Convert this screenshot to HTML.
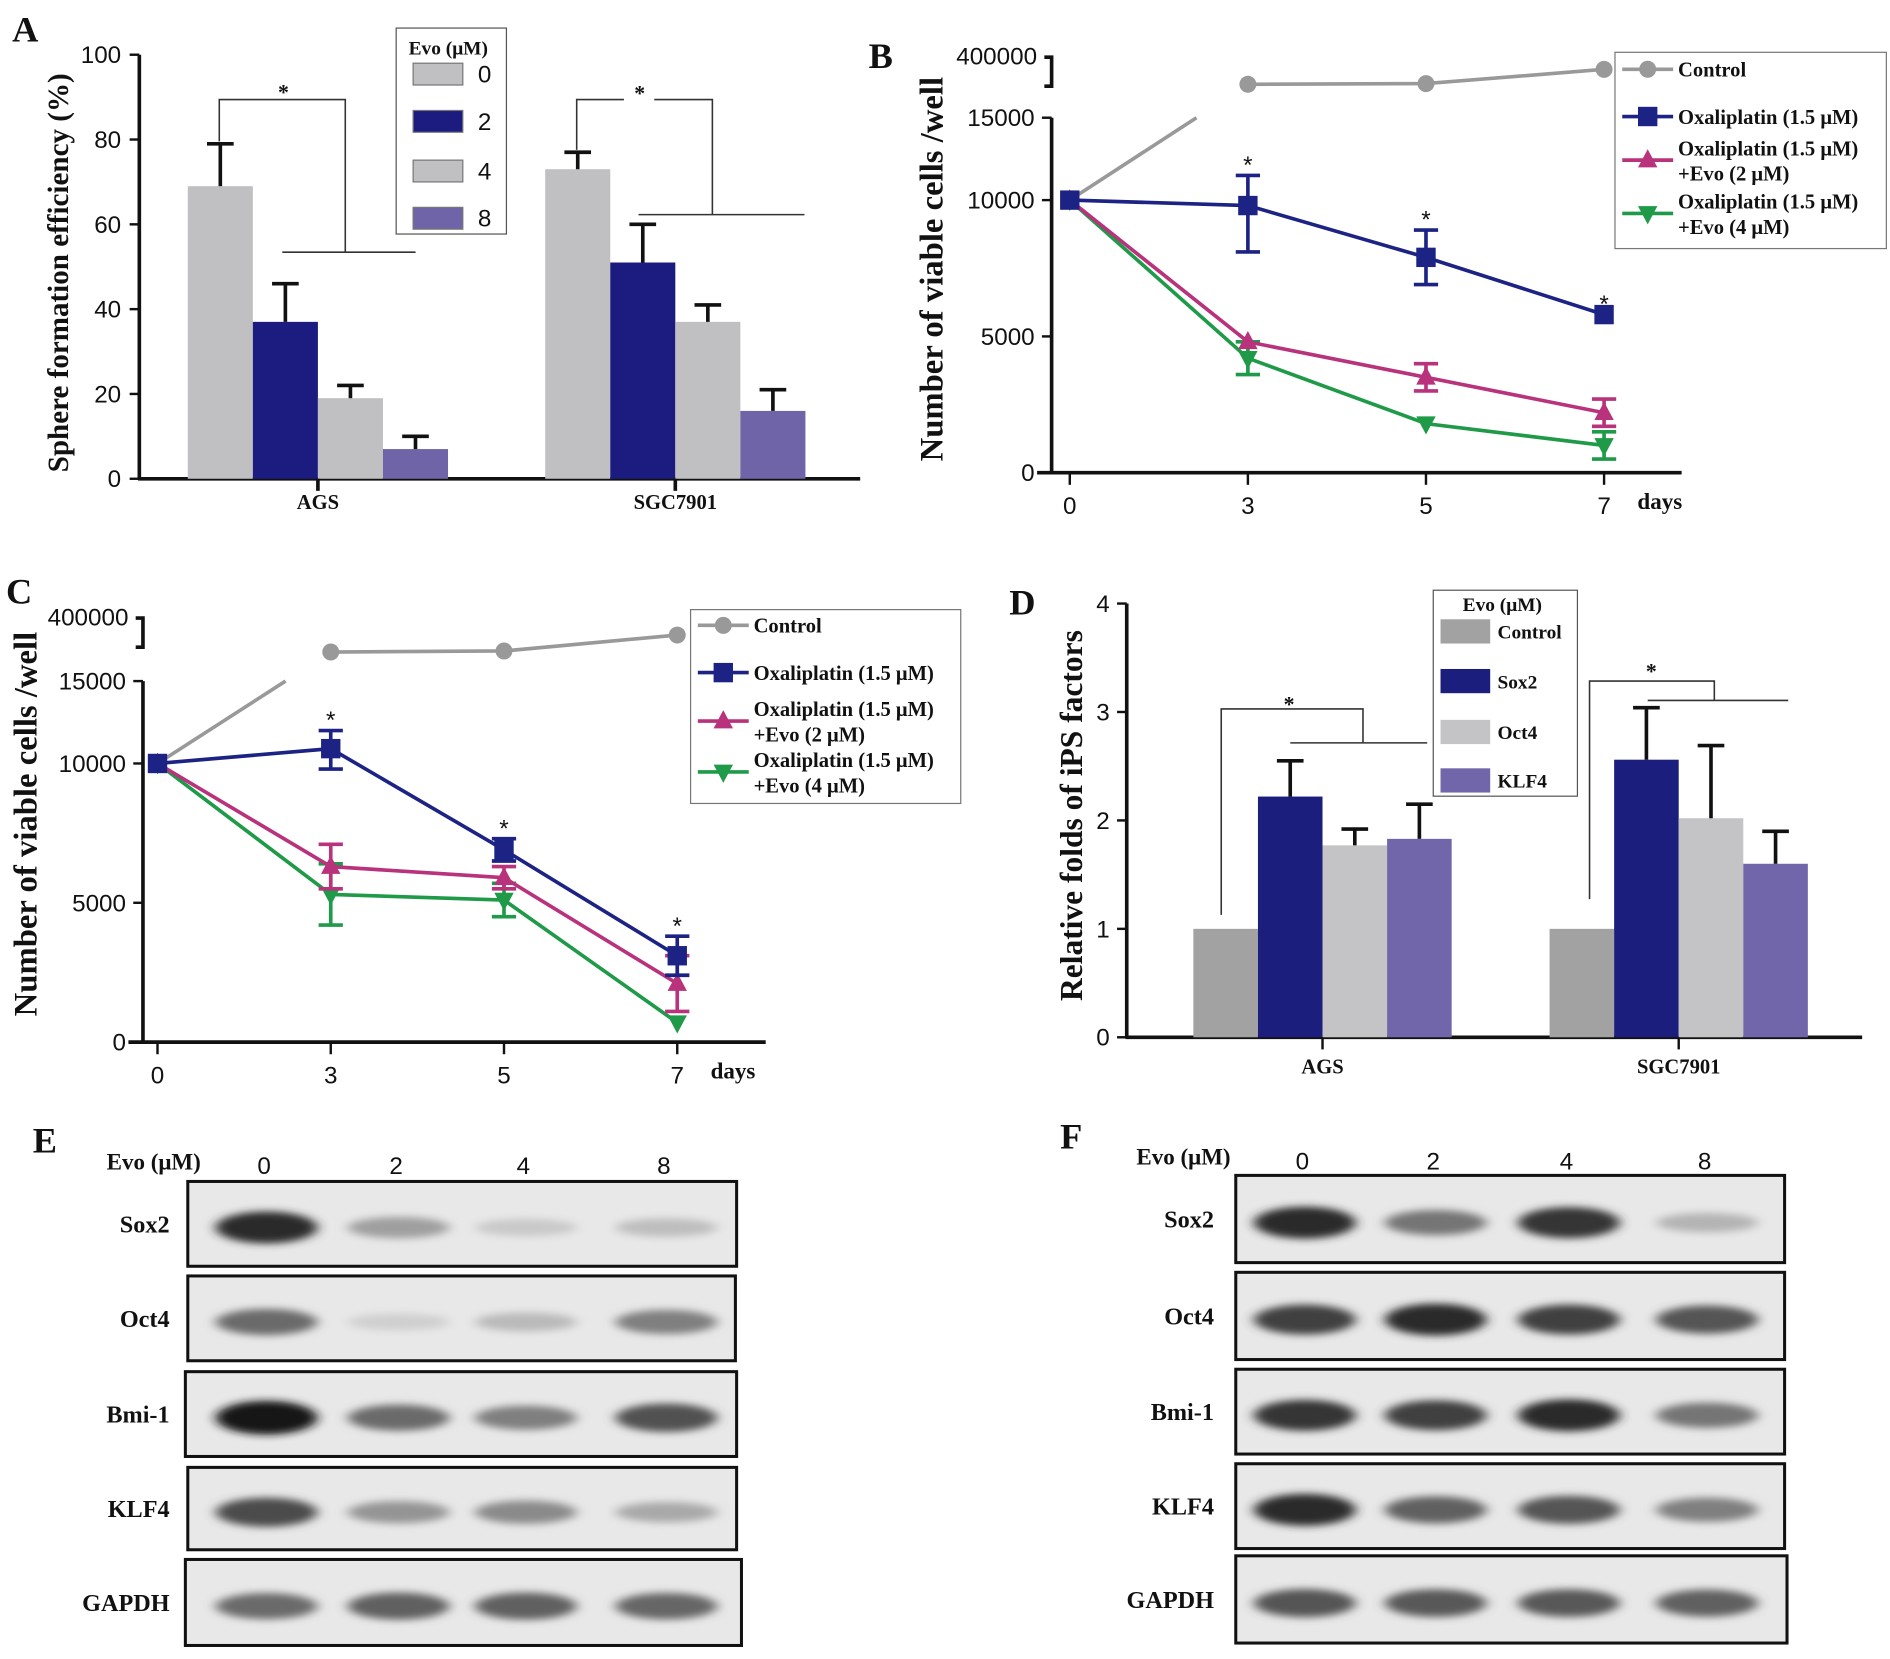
<!DOCTYPE html>
<html><head><meta charset="utf-8">
<style>
html,body{margin:0;padding:0;background:#fff;}
svg{display:block;}
text{font-family:"Liberation Serif",serif;font-weight:bold;fill:#111;}
.tk{font-family:"Liberation Sans",sans-serif;font-weight:normal;font-size:20px;}
</style></head>
<body>
<svg id="fig" width="1890" height="1659" viewBox="0 0 1560 1369" xmlns="http://www.w3.org/2000/svg">
<defs>
<filter id="blur" x="-30%" y="-100%" width="160%" height="300%"><feGaussianBlur stdDeviation="5 3"/></filter>
</defs>
</svg>
<script>
// ---------- Panel A data ----------
const aGroups = ["AGS","SGC7901"];
const aDoses = ["0","2","4","8"];
const aVals = [[69,37,19,7],[73,51,37,16]];
const aErr = [[79,46,22,10],[77,60,41,21]];
const aTicks = [0,20,40,60,80,100];
// ---------- Panel B data ----------
const bDays = ["0","3","5","7"];
const bOxa = [10000,9800,7900,5800];
const bOxaErr = [0,1700,1000,0];
const bEvo2 = [10000,4800,3500,2200];
const bEvo2Err = [0,0,500,500];
const bEvo4 = [10000,4200,1800,1000];
const bEvo4Err = [0,600,0,500];
const bCtrl = [10000,320000,322000,364000];
const bTicks = [0,5000,10000,15000];
// ---------- Panel C data ----------
const cDays = ["0","3","5","7"];
const cOxa = [10000,10900,6900,3100];
const cOxaErr = [0,1100,400,700];
const cEvo2 = [10000,6300,5900,2100];
const cEvo2Err = [0,800,400,1000];
const cEvo4 = [10000,5300,5100,700];
const cEvo4Err = [0,1100,600,0];
const cCtrl = [10000,300000,303000,350000];
const cTicks = [0,5000,10000,15000];
// ---------- Panel D data ----------
const dGroups = ["AGS","SGC7901"];
const dFactors = ["Control","Sox2","Oct4","KLF4"];
const dVals = [[1.0,2.22,1.77,1.83],[1.0,2.56,2.02,1.6]];
const dErr = [[1.0,2.55,1.92,2.15],[1.0,3.04,2.69,1.9]];
const dTicks = [0,1,2,3,4];
// ---------- Blots (band darkness 0..1) ----------
const blotProteins = ["Sox2","Oct4","Bmi-1","KLF4","GAPDH"];
const blotDoses = ["0","2","4","8"];
const blotE = [[0.9,0.35,0.15,0.2],[0.6,0.12,0.22,0.5],[1.0,0.6,0.5,0.72],[0.75,0.4,0.45,0.3],[0.6,0.65,0.65,0.62]];
const blotF = [[0.9,0.55,0.85,0.25],[0.8,0.9,0.8,0.7],[0.85,0.8,0.9,0.55],[0.9,0.65,0.7,0.5],[0.7,0.68,0.68,0.65]];

const NS="http://www.w3.org/2000/svg";
const svg=document.getElementById('fig');
function mk(tag,attrs,parent){const e=document.createElementNS(NS,tag);for(const k in attrs)e.setAttribute(k,attrs[k]);(parent||svg).appendChild(e);return e;}
function txt(s,x,y,size,parent,anchor,cls){const t=mk('text',{x:x,y:y,'font-size':size,'text-anchor':anchor||'start'},parent);if(cls)t.setAttribute('class',cls);t.textContent=s;return t;}
function line(x1,y1,x2,y2,col,w,parent){return mk('line',{x1:x1,y1:y1,x2:x2,y2:y2,stroke:col,'stroke-width':w},parent);}
function errbar(x,y1,y2,col,w,cap,parent){const g=mk('g',{},parent);line(x,y1,x,y2,col,w,g);line(x-cap,y2,x+cap,y2,col,w,g);return g;}

[['A',10,34],['B',717,56],['C',5,498],['D',833,507],['E',27,951],['F',875,948]].forEach(p=>{
 const t=txt(p[0],p[1],p[2],30);
 
 
});

// ================= Panel A =================
(function(){
 const g=mk('g',{});
 
 
 const y=v=>395-v*3.5;
 const cols=['#c0c0c2','#1c1c80','#c0c0c2','#7064a8'];
 const gx=[155,450], bw=53.7;
 line(115,45,115,396,'#111',3,g);
 line(114,395,710,395,'#111',3,g);
 aTicks.forEach(t=>{line(107,y(t),115,y(t),'#111',2,g);const l=txt(String(t),100,y(t)+7,20,g,'end','tk');
  
  });
 aGroups.forEach((grp,gi)=>{
  aVals[gi].forEach((v,i)=>{
   const x=gx[gi]+i*bw;
   const r=mk('rect',{x:x,y:y(v),width:bw,height:y(0)-y(v),fill:cols[i]},g);
   
   
   const e=errbar(x+bw/2,y(v),y(aErr[gi][i]),'#111',3,11,g);
   
   
  });
  const cx=gx[gi]+2*bw;
  line(cx,395,cx,405,'#111',3,g);
  const l=txt(grp,cx,420,17,g,'middle');
  
  
 });
 const s=mk('g',{fill:'none',stroke:'#333','stroke-width':1.3},g);
 
 
 mk('polyline',{points:`181,${y(aErr[0][0])-2} 181,82 285,82 285,208`},s);
 line(233,208,343,208,'#333',1.3,s);
 mk('polyline',{points:`476,${y(aErr[1][0])-2} 476,82 515,82`},s);
 mk('polyline',{points:`540,82 588,82 588,177`},s);
 line(527,177,664,177,'#333',1.3,s);
 txt('*',234,82,18,g,'middle');txt('*',528,83,18,g,'middle');
 const yt=txt('Sphere formation efficiency (%)',0,0,24,g,'middle');
 yt.setAttribute('transform','translate(56,225) rotate(-90)');
 
 
 const lg=mk('g',{},g);
 
 
 mk('rect',{x:327,y:23,width:91,height:170,fill:'#fff',stroke:'#555','stroke-width':1},lg);
 txt('Evo (μM)',370,45,16,lg,'middle');
 const ly=[52,91,132,171];
 aDoses.forEach((d,i)=>{
  const e=mk('g',{},lg);
  
  
  mk('rect',{x:341,y:ly[i],width:41,height:18,fill:cols[i],stroke:'#777','stroke-width':1},e);
  txt(d,400,ly[i]+16,20,e,'middle','tk');
 });
})();

function lineChart(o){
 const g=mk('g',{});
 
 
 const x=i=>o.x0+i*o.dx;
 const y=v=>v<=10000?o.yZero-v*(o.yZero-o.y10k)/10000:(v<=15000?o.y10k-(v-10000)*(o.y10k-o.y15k)/5000:o.yTop+(400000-v)*0.00028);
 line(o.ax,o.y15k,o.ax,o.yZero+1,'#111',3,g);
 line(o.ax-12,o.yZero,o.axEnd,o.yZero,'#111',3,g);
 mk('polyline',{points:`${o.ax-6},${o.yTop} ${o.ax},${o.yTop} ${o.ax},${o.yTop+24} ${o.ax-6},${o.yTop+24}`,fill:'none',stroke:'#111','stroke-width':3},g);
 const t4=txt('400000',o.ax-12,o.yTop+6,19,g,'end','tk');
 
 
 o.ticks.forEach(t=>{line(o.ax-8,y(t),o.ax,y(t),'#111',2,g);const l=txt(String(t),o.ax-14,y(t)+7,19,g,'end','tk');
  
  });
 o.days.forEach((d,i)=>{line(x(i),o.yZero,x(i),o.yZero+10,'#111',2,g);const l=txt(d,x(i),o.yZero+34,21,g,'middle','tk');
  
  });
 txt('days',x(3)+46,o.yZero+30,19,g,'middle');
 const yt=txt('Number of viable cells /well',0,0,27,g,'middle');
 yt.setAttribute('transform',`translate(${o.titleX},${o.titleY}) rotate(-90)`);
 
 
 const cg=mk('g',{},g);
 
 
 const p0=[x(0),y(o.ctrl[0])], p1=[x(1),y(o.ctrl[1])];
 const t=(p0[1]-o.y15k)/(p0[1]-p1[1]);
 line(p0[0],p0[1],p0[0]+(p1[0]-p0[0])*t,o.y15k,'#999',3,cg);
 const pts=[1,2,3].map(i=>x(i)+','+y(o.ctrl[i])).join(' ');
 mk('polyline',{points:pts,fill:'none',stroke:'#999','stroke-width':3},cg);
 [1,2,3].forEach(i=>{const c=mk('circle',{cx:x(i),cy:y(o.ctrl[i]),r:7,fill:'#999'},cg);
  
  });
 const series=[
  {n:'series-oxaliplatin-evo4',v:o.evo4,e:o.evo4Err,c:'#1f9a48',m:'vtri'},
  {n:'series-oxaliplatin-evo2',v:o.evo2,e:o.evo2Err,c:'#b8327c',m:'tri'},
  {n:'series-oxaliplatin',v:o.oxa,e:o.oxaErr,c:'#1c2384',m:'sq'}];
 series.forEach(s=>{
  const sg=mk('g',{},g);
  
  
  mk('polyline',{points:s.v.map((v,i)=>x(i)+','+y(v)).join(' '),fill:'none',stroke:s.c,'stroke-width':3},sg);
  s.v.forEach((v,i)=>{
   if(s.e[i]>0){const eg=mk('g',{},sg);
    
    
    line(x(i),y(v+s.e[i]),x(i),y(v-s.e[i]),s.c,3,eg);
    line(x(i)-10,y(v+s.e[i]),x(i)+10,y(v+s.e[i]),s.c,3,eg);
    line(x(i)-10,y(v-s.e[i]),x(i)+10,y(v-s.e[i]),s.c,3,eg);}
   const px=x(i),py=y(v);let m;
   if(s.m==='sq')m=mk('rect',{x:px-8,y:py-8,width:16,height:16,fill:s.c},sg);
   else if(s.m==='tri')m=mk('polygon',{points:`${px},${py-9} ${px-8},${py+6} ${px+8},${py+6}`,fill:s.c},sg);
   else m=mk('polygon',{points:`${px},${py+9} ${px-8},${py-6} ${px+8},${py-6}`,fill:s.c},sg);
   
   
  });
 });
 o.stars.forEach(i=>{const v=o.oxa[i]+o.oxaErr[i];txt('*',x(i),y(v)-2,26,g,'middle','tk');});
 const L=o.leg, lg=mk('g',{},g);
 
 
 mk('rect',{x:L.x,y:L.y,width:L.w,height:L.h,fill:'#fff',stroke:'#777','stroke-width':1},lg);
 const ents=[['Control','#999','circ',L.r[0],['Control']],['Oxaliplatin (1.5 μM)','#1c2384','sq',L.r[1],['Oxaliplatin (1.5 μM)']],
  ['evo2','#b8327c','tri',L.r[2],['Oxaliplatin (1.5 μM)','+Evo (2 μM)']],['evo4','#1f9a48','vtri',L.r[3],['Oxaliplatin (1.5 μM)','+Evo (4 μM)']]];
 ents.forEach(en=>{
  const eg=mk('g',{},lg);
  
  
  const cy=en[3],lx=L.x+6;
  line(lx,cy,lx+42,cy,en[1],3,eg);
  const mx=lx+21;
  if(en[2]==='circ')mk('circle',{cx:mx,cy:cy,r:7,fill:en[1]},eg);
  else if(en[2]==='sq')mk('rect',{x:mx-8,y:cy-8,width:16,height:16,fill:en[1]},eg);
  else if(en[2]==='tri')mk('polygon',{points:`${mx},${cy-9} ${mx-8},${cy+6} ${mx+8},${cy+6}`,fill:en[1]},eg);
  else mk('polygon',{points:`${mx},${cy+9} ${mx-8},${cy-6} ${mx+8},${cy-6}`,fill:en[1]},eg);
  const lines=en[4];
  lines.forEach((s,k)=>txt(s,lx+46,(lines.length===1?cy+6:cy-4+k*21),17,eg));
 });
}
lineChart({name:'panel-b-line-chart',days:bDays,oxa:bOxa,oxaErr:bOxaErr,evo2:bEvo2,evo2Err:bEvo2Err,evo4:bEvo4,evo4Err:bEvo4Err,ctrl:bCtrl,ticks:bTicks,
 x0:883,dx:147,ax:868,axEnd:1388,yZero:390,y10k:165,y15k:97,yTop:47,titleX:778,titleY:222,stars:[1,2,3],
 leg:{x:1333,y:43,w:224,h:162,r:[57,96,132,176]}});
lineChart({name:'panel-c-line-chart',days:cDays,oxa:cOxa,oxaErr:cOxaErr,evo2:cEvo2,evo2Err:cEvo2Err,evo4:cEvo4,evo4Err:cEvo4Err,ctrl:cCtrl,ticks:cTicks,
 x0:130,dx:143,ax:118,axEnd:632,yZero:860,y10k:630,y15k:562,yTop:510,titleX:30,titleY:680,stars:[1,2,3],
 leg:{x:570,y:503,w:223,h:160,r:[516,555,595,637]}});

(function(){
 const g=mk('g',{});
 
 
 const y=v=>856-v*89.5;
 const cols=['#a2a2a2','#1c1e7e','#c4c4c6','#7266aa'];
 const gx=[985,1279],bw=53.3;
 line(930,y(4),930,857,'#111',3,g);
 line(929,856,1537,856,'#111',3,g);
 dTicks.forEach(t=>{line(922,y(t),930,y(t),'#111',2,g);const l=txt(String(t),916,y(t)+7,20,g,'end','tk');
  
  });
 dGroups.forEach((grp,gi)=>{
  dVals[gi].forEach((v,i)=>{
   const x=gx[gi]+i*bw;
   const r=mk('rect',{x:x,y:y(v),width:bw,height:y(0)-y(v),fill:cols[i]},g);
   
   
   if(dErr[gi][i]>v){const e=errbar(x+bw/2,y(v),y(dErr[gi][i]),'#111',3,11,g);
    
    }
  });
  const cx=gx[gi]+2*bw;
  line(cx,856,cx,866,'#111',2,g);
  const l=txt(grp,cx,886,17,g,'middle');
  
  
 });
 const s=mk('g',{fill:'none',stroke:'#333','stroke-width':1.3},g);
 
 
 mk('polyline',{points:'1008,755 1008,585 1125,585 1125,613'},s);
 line(1065,613,1178,613,'#333',1.3,s);
 mk('polyline',{points:'1312,742 1312,562 1415,562 1415,578'},s);
 line(1360,578,1476,578,'#333',1.3,s);
 txt('*',1064,587,18,g,'middle');txt('*',1363,560,18,g,'middle');
 const yt=txt('Relative folds of iPS factors',0,0,26,g,'middle');
 yt.setAttribute('transform','translate(893,673) rotate(-90)');
 
 
 const lg=mk('g',{},g);
 
 
 mk('rect',{x:1183,y:487,width:119,height:170,fill:'#fff',stroke:'#555','stroke-width':1},lg);
 txt('Evo (μM)',1240,504,16,lg,'middle');
 const ly=[511,552,594,634];
 dFactors.forEach((f,i)=>{
  const e=mk('g',{},lg);
  
  
  mk('rect',{x:1189,y:ly[i],width:41,height:20,fill:cols[i]},e);
  txt(f,1236,ly[i]+16,16,e);
 });
})();

function blot(o){
 const g=mk('g',{});
 
 
 txt('Evo (μM)',o.evoX,o.evoY,19,g);
 blotDoses.forEach((d,i)=>{const l=txt(d,o.lanes[i],o.evoY+4,15,g,'middle','tk');
  
  });
 blotProteins.forEach((p,r)=>{
  const b=o.boxes[r], rg=mk('g',{},g);
  
  
  mk('rect',{x:b[0],y:b[1],width:b[2]-b[0],height:b[3]-b[1],fill:'#e8e8e8'},rg);
  const bg=mk('g',{filter:'url(#blur)'},rg);
  const cy=(b[1]+b[3])/2+3;
  o.data[r].forEach((v,i)=>{
   const gv=Math.round(232-v*210);
   const el=mk('ellipse',{cx:o.lanes[i]+2,cy:cy,rx:42,ry:6+v*8,fill:`rgb(${gv},${gv},${gv})`},bg);
   
   
  });
  mk('rect',{x:b[0],y:b[1],width:b[2]-b[0],height:b[3]-b[1],fill:'none',stroke:'#111','stroke-width':2.5},rg);
  txt(p,o.labX,(b[1]+b[3])/2+7,20,rg,'end');
 });
}
blot({name:'panel-e-western-blot',evoX:88,evoY:965,lanes:[218,327,432,548],labX:140,
 boxes:[[155,975,608,1045],[155,1053,607,1123],[153,1132,608,1202],[155,1211,608,1279],[153,1287,612,1358]],data:blotE});
blot({name:'panel-f-western-blot',evoX:938,evoY:961,lanes:[1075,1183,1293,1407],labX:1002,
 boxes:[[1020,970,1473,1042],[1020,1050,1473,1122],[1020,1130,1473,1200],[1020,1208,1473,1278],[1020,1284,1475,1356]],data:blotF});
</script>
</body></html>
